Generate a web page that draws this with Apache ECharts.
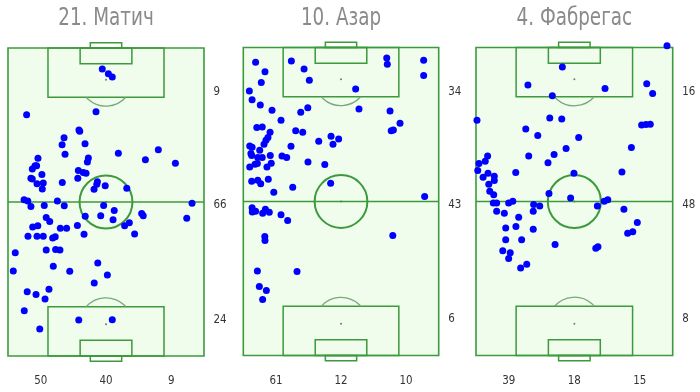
<!DOCTYPE html>
<html>
<head>
<meta charset="utf-8">
<script src="https://cdn.jsdelivr.net/npm/echarts@6/dist/echarts.min.js"></script>
<style>
html,body{margin:0;padding:0;background:#fff;}
#chart{width:700px;height:392px;}
</style>
</head>
<body>
<div id="chart"></div>
<script>
// ---- data (pitch coordinates: x 0..100 across, y 0..100 along, attacking upward) ----
const titles = ['21. Матич', '10. Азар', '4. Фабрегас'];

const maticRows = [9, 66, 24];
const maticCols = [50, 40, 9];
const maticPoints = [
  [48.1,93.2],[51.2,91.6],[53.2,90.6],[9.5,78.3],[44.9,79.3],[36.2,73.4],[36.6,73.0],
  [28.6,70.9],[27.6,68.6],[39.3,68.9],[76.7,67.0],[29.1,65.5],[56.3,65.8],[70.1,63.7],
  [85.4,62.6],[15.3,64.2],[41.0,64.3],[40.5,63.0],[13.8,61.8],[14.6,61.8],[12.4,60.7],
  [17.3,58.9],[11.7,57.7],[12.4,57.5],[14.8,55.9],[18.0,56.2],[17.5,54.2],[27.7,56.3],
  [35.9,60.2],[38.4,59.6],[39.8,59.3],[35.6,57.7],[45.6,56.6],[45.3,55.8],[49.6,55.3],
  [43.9,54.1],[60.6,54.5],[8.2,50.7],[10.1,50.3],[11.7,48.5],[18.5,48.9],[25.2,50.3],
  [28.7,48.8],[48.8,48.9],[54.2,47.2],[39.4,45.4],[47.3,45.5],[53.6,44.2],[19.5,45.0],
  [21.3,43.7],[12.6,41.9],[15.2,42.3],[26.7,41.5],[29.9,41.5],[35.4,42.4],[59.5,42.3],
  [61.9,43.3],[68.2,46.3],[69.0,45.5],[93.9,49.6],[91.2,44.7],[64.6,39.6],[38.8,39.5],
  [10.2,38.9],[14.8,38.9],[18.0,38.9],[22.8,38.3],[24.1,38.7],[3.7,33.5],[19.5,34.4],
  [24.3,34.6],[26.5,34.4],[45.8,30.2],[2.7,27.6],[23.1,29.1],[31.5,27.5],[50.7,26.3],
  [44.0,23.7],[9.8,20.9],[14.3,20.0],[20.9,21.7],[18.9,18.5],[8.3,14.7],[36.1,11.7],
  [53.2,11.8],[16.2,8.8]
];

const hazardRows = [34, 43, 6];
const hazardCols = [61, 12, 10];
const hazardPoints = [
  [6.3,95.2],[24.6,95.6],[73.4,96.6],[73.7,94.6],[92.3,95.9],[92.3,90.9],[11.1,92.1],
  [31.1,93.0],[9.2,88.6],[33.8,89.4],[3.1,85.9],[57.5,86.5],[4.5,83.0],[8.7,81.3],
  [14.7,79.6],[29.4,79.0],[33.0,80.4],[59.2,80.0],[75.1,79.4],[80.2,75.4],[75.7,73.0],
  [76.8,73.2],[19.3,76.4],[6.9,74.0],[9.7,74.2],[13.7,72.5],[26.8,73.0],[30.4,72.5],
  [12.6,70.8],[11.6,69.9],[10.6,68.6],[3.3,68.0],[4.5,67.6],[8.4,66.6],[24.4,67.9],
  [38.6,69.6],[44.9,71.2],[48.8,70.3],[45.9,68.6],[3.9,65.6],[4.3,64.9],[7.4,64.3],
  [9.7,64.3],[13.8,64.9],[19.8,64.8],[22.2,64.3],[6.0,62.1],[7.2,62.3],[3.3,61.2],
  [12.1,61.2],[14.3,62.4],[33.1,62.8],[41.7,62.0],[4.3,56.6],[7.4,56.9],[8.9,55.8],
  [12.8,57.2],[15.6,53.0],[25.3,54.6],[44.7,55.9],[92.8,51.6],[4.5,48.0],[4.6,46.6],
  [6.3,46.8],[9.9,46.2],[11.3,47.5],[13.3,46.5],[19.3,45.7],[22.7,43.8],[11.0,38.6],
  [11.1,37.3],[76.5,39.0],[7.2,27.4],[27.5,27.3],[8.2,22.4],[11.8,21.1],[9.9,18.2]
];

const fabregasRows = [16, 48, 8];
const fabregasCols = [39, 18, 15];
const fabregasPoints = [
  [97.1,100.6],[43.9,93.7],[26.4,87.8],[65.6,86.7],[86.8,88.2],[89.8,85.1],[38.8,84.3],
  [0.5,76.4],[37.5,77.1],[43.6,76.8],[25.3,73.5],[84.2,74.8],[86.4,75.0],[88.6,75.1],
  [31.4,71.4],[52.2,70.8],[45.8,67.2],[79.0,67.5],[26.8,64.8],[39.7,65.3],[5.9,64.8],
  [4.7,63.1],[1.5,62.3],[36.6,62.6],[0.9,60.1],[20.2,59.4],[6.1,59.2],[49.8,59.2],
  [74.2,59.6],[3.6,57.9],[9.3,58.2],[9.3,56.8],[6.5,55.6],[7.0,53.3],[9.0,52.2],
  [37.1,52.6],[48.1,51.1],[18.7,50.1],[67.0,50.6],[65.2,50.1],[8.8,49.5],[10.5,49.5],
  [16.6,49.5],[29.3,49.0],[32.4,48.5],[61.7,48.5],[75.2,47.5],[10.5,46.8],[14.4,46.2],
  [21.7,44.9],[29.1,46.8],[82.0,43.2],[77.1,39.7],[79.7,40.2],[15.1,41.4],[20.3,41.9],
  [29.1,41.0],[15.1,37.6],[23.2,37.6],[40.2,36.0],[13.6,34.0],[17.4,33.4],[16.6,31.5],
  [22.7,28.4],[25.8,29.6],[60.9,34.8],[62.0,35.3]
];

const players = [
  {title: titles[0], points: maticPoints, rows: maticRows, cols: maticCols},
  {title: titles[1], points: hazardPoints, rows: hazardRows, cols: hazardCols},
  {title: titles[2], points: fabregasPoints, rows: fabregasRows, cols: fabregasCols}
];

// ---- layout & style ----
const gridBoxes = [
  {left: 8, top: 48, width: 196, height: 308},
  {left: 243.3, top: 47.5, width: 195.4, height: 308},
  {left: 476, top: 47.5, width: 196.7, height: 308}
];
const LINE = '#3c9a3c';
const ARC = '#7aa87a';
const FILL = '#f0fcec';
const DOT = '#0000ff';
const FONT = "'Liberation Sans Narrow', 'DejaVu Sans Condensed', Roboto, sans-serif";
const rowLabelY = [85.7, 49.0, 11.9];
const colLabelX = [16.7, 50, 83.3];

function pitchRender(params, api) {
  const c = (x, y) => api.coord([x, y]);
  const rectBetween = (x1, y1, x2, y2, style) => {
    const a = c(x1, y1), b = c(x2, y2);
    return {type: 'rect', shape: {x: Math.min(a[0], b[0]), y: Math.min(a[1], b[1]),
      width: Math.abs(b[0] - a[0]), height: Math.abs(b[1] - a[1])}, style: style};
  };
  const stroke = {fill: 'none', stroke: LINE, lineWidth: 1.5};
  const children = [];
  children.push(rectBetween(0, 100, 100, 0, {fill: FILL, stroke: LINE, lineWidth: 1.6}));
  const h1 = c(0, 50), h2 = c(100, 50);
  children.push({type: 'line', shape: {x1: h1[0], y1: h1[1], x2: h2[0], y2: h2[1]}, style: {stroke: LINE, lineWidth: 1.5}});
  const cc = c(50, 50);
  const r = api.size([13.5, 0])[0];
  children.push({type: 'circle', shape: {cx: cc[0], cy: cc[1], r: r}, style: {fill: 'none', stroke: LINE, lineWidth: 2}});
  children.push({type: 'circle', shape: {cx: cc[0], cy: cc[1], r: 1}, style: {fill: LINE}});
  [1, -1].forEach(function (dir) {
    const Y = v => dir === 1 ? 100 - v : v; // distance from goal line -> y
    children.push(rectBetween(20.4, Y(0), 79.6, Y(16), stroke));
    children.push(rectBetween(36.8, Y(0), 63.2, Y(5.1), stroke));
    children.push(rectBetween(42, Y(0), 58, Y(-1.7), stroke));
    const sp = c(50, Y(10.3));
    children.push({type: 'circle', shape: {cx: sp[0], cy: sp[1], r: 1}, style: {fill: '#777'}});
    const edge = c(50, Y(16));
    const d = Math.abs(edge[1] - sp[1]);
    const half = Math.acos(Math.min(1, d / r));
    const mid = dir === 1 ? Math.PI / 2 : -Math.PI / 2;
    children.push({type: 'arc', shape: {cx: sp[0], cy: sp[1], r: r, startAngle: mid - half, endAngle: mid + half},
      style: {fill: 'none', stroke: ARC, lineWidth: 1.3}});
  });
  return {type: 'group', children: children};
}

function labelRender(p) {
  return function (params, api) {
    const children = [];
    p.rows.forEach(function (v, i) {
      const pt = api.coord([100, rowLabelY[i]]);
      children.push({type: 'text', x: pt[0] + 9.5, y: pt[1], scaleX: 0.88,
        style: {text: String(v), fill: '#333', font: '13px ' + FONT, align: 'left', verticalAlign: 'middle'}});
    });
    p.cols.forEach(function (v, i) {
      const pt = api.coord([colLabelX[i], 0]);
      children.push({type: 'text', x: pt[0], y: pt[1] + 25, scaleX: 0.88,
        style: {text: String(v), fill: '#333', font: '13px ' + FONT, align: 'center', verticalAlign: 'middle'}});
    });
    const t = api.coord([50, 100]);
    children.push({type: 'text', x: t[0], y: 18.5, scaleX: 0.815,
      style: {text: p.title, fill: '#8a8a8a', font: '25px ' + FONT, align: 'center', verticalAlign: 'middle'}});
    return {type: 'group', children: children};
  };
}

const grid = [], xAxis = [], yAxis = [], series = [];
players.forEach(function (p, i) {
  grid.push(gridBoxes[i]);
  xAxis.push({type: 'value', gridIndex: i, min: 0, max: 100, show: false});
  yAxis.push({type: 'value', gridIndex: i, min: 0, max: 100, show: false});
  series.push({type: 'custom', xAxisIndex: i, yAxisIndex: i, data: [[50, 50]], renderItem: pitchRender,
    z: 1, silent: true, clip: false});
  series.push({type: 'scatter', xAxisIndex: i, yAxisIndex: i, data: p.points, symbolSize: 7,
    itemStyle: {color: DOT, opacity: 1}, z: 3, clip: false, silent: true});
  series.push({type: 'custom', xAxisIndex: i, yAxisIndex: i, data: [[50, 50]], renderItem: labelRender(p),
    z: 4, silent: true, clip: false});
});

const chart = echarts.init(document.getElementById('chart'), null, {renderer: 'canvas'});
chart.setOption({
  animation: false,
  backgroundColor: '#ffffff',
  grid: grid, xAxis: xAxis, yAxis: yAxis, series: series
});
</script>
</body>
</html>
